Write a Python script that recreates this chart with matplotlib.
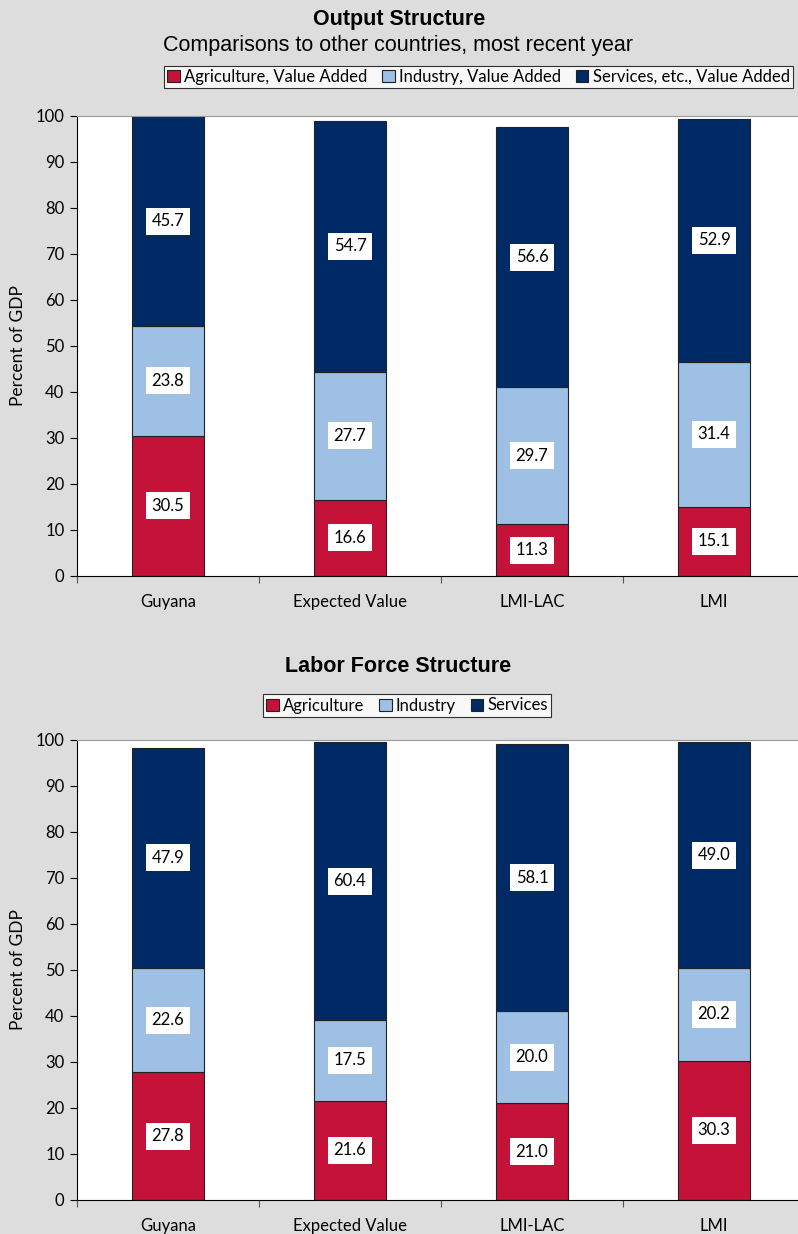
import matplotlib.pyplot as plt
from matplotlib.patches import Patch

CATEGORIES = ['Guyana', 'Expected Value', 'LMI-LAC', 'LMI']

OUTPUT_AGRI = [30.5, 16.6, 11.3, 15.1]
OUTPUT_IND = [23.8, 27.7, 29.7, 31.4]
OUTPUT_SERV = [45.7, 54.7, 56.6, 52.9]
OUTPUT_NAMES = ['Agriculture, Value Added', 'Industry, Value Added', 'Services, etc., Value Added']

LABOR_AGRI = [27.8, 21.6, 21.0, 30.3]
LABOR_IND = [22.6, 17.5, 20.0, 20.2]
LABOR_SERV = [47.9, 60.4, 58.1, 49.0]
LABOR_NAMES = ['Agriculture', 'Industry', 'Services']

COLORS = ['#C41239', '#9DC0E4', '#002A66']
BG = '#DDDDDD'
LABEL_FONT = ['Lato', 'DejaVu Sans']
TITLE_FONT = ['Liberation Sans', 'DejaVu Sans']

W, H = 798, 1234


def draw_stack(ax, series):
    x = list(range(len(CATEGORIES)))
    bottom = [0.0] * len(CATEGORIES)
    for values, color in zip(series, COLORS):
        ax.bar(x, values, width=0.4, bottom=bottom, color=color,
               edgecolor='#222222', linewidth=0.8, zorder=2)
        for xi, b, v in zip(x, bottom, values):
            ax.text(xi, b + v / 2, f'{v:.1f}', ha='center', va='center',
                    fontsize=12, family=LABEL_FONT, zorder=3,
                    bbox=dict(facecolor='white', edgecolor='none', pad=4))
        bottom = [b + v for b, v in zip(bottom, values)]

    ax.set_xlim(-0.5, len(CATEGORIES) - 0.5)
    ax.set_ylim(0, 100)
    ax.set_yticks(range(0, 101, 10))
    ax.set_xticks([i - 0.5 for i in range(len(CATEGORIES))], minor=False)
    ax.set_xticklabels([''] * len(CATEGORIES))
    ax.set_xticks(x, minor=True)
    ax.set_xticklabels(CATEGORIES, minor=True)
    ax.tick_params(axis='x', which='minor', length=0, pad=13, labelsize=12)
    ax.tick_params(axis='x', which='major', length=5, direction='out', color='#555555')
    ax.tick_params(axis='y', length=5, direction='out', labelsize=12, pad=4)
    for lbl in ax.get_xticklabels(minor=True) + ax.get_yticklabels():
        lbl.set_family(LABEL_FONT)
    ax.set_ylabel('Percent of GDP', fontsize=12.5, family=LABEL_FONT, labelpad=7)
    ax.set_facecolor('white')
    ax.spines['left'].set_color('black')
    ax.spines['bottom'].set_color('black')
    ax.spines['top'].set_color('#999999')
    ax.spines['right'].set_visible(False)


def add_legend(fig, names, x0, y0, x1, y1):
    handles = [Patch(facecolor=c, edgecolor='#222222', linewidth=0.8) for c in COLORS]
    leg = fig.legend(handles, names, loc='center',
                     bbox_to_anchor=((x0 + x1) / 2 / W, 1 - (y0 + y1) / 2 / H),
                     ncol=3, frameon=True, fancybox=False,
                     prop={'family': LABEL_FONT, 'size': 12},
                     handlelength=0.75, handleheight=0.75, handletextpad=0.25,
                     columnspacing=0.9, borderpad=0.2, borderaxespad=0)
    leg.get_frame().set_edgecolor('black')
    leg.get_frame().set_linewidth(0.8)
    return leg


fig = plt.figure(figsize=(W / 100, H / 100), dpi=100, facecolor=BG)

left = 77 / W
width = (805 - 77) / W
ax1 = fig.add_axes([left, (H - 576) / H, width, 460 / H])
ax2 = fig.add_axes([left, (H - 1200) / H, width, 460 / H])

draw_stack(ax1, [OUTPUT_AGRI, OUTPUT_IND, OUTPUT_SERV])
draw_stack(ax2, [LABOR_AGRI, LABOR_IND, LABOR_SERV])

fig.text(399 / W, 1 - 19 / H, 'Output Structure', ha='center', va='center',
         fontsize=15.5, fontweight='bold', family=TITLE_FONT)
fig.text(398 / W, 1 - 46 / H, 'Comparisons to other countries, most recent year',
         ha='center', va='center', fontsize=15.5, family=TITLE_FONT)
fig.text(398 / W, 1 - 667 / H, 'Labor Force Structure', ha='center', va='center',
         fontsize=15.5, fontweight='bold', family=TITLE_FONT)

add_legend(fig, OUTPUT_NAMES, 157, 66, 800, 88)
add_legend(fig, LABOR_NAMES, 269, 694, 545, 717)

fig.savefig('out.png', dpi=100, facecolor=BG)
